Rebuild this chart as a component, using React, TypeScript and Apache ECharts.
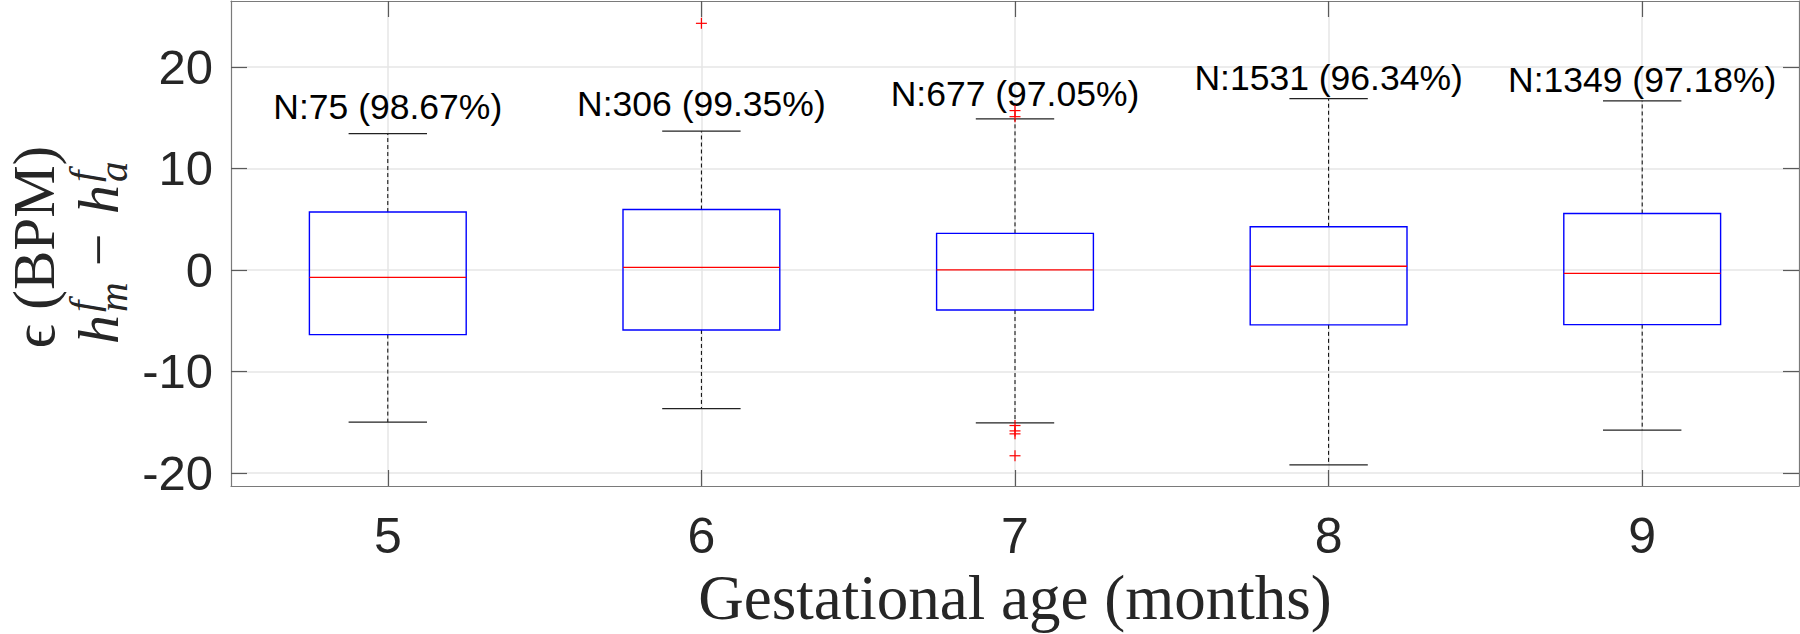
import React, { useEffect, useRef } from "react";
import * as echarts from "echarts";

// ---- data ----
const months = [5, 6, 7, 8, 9];
const whiskerLow = [-15.0, -13.67, -15.08, -19.22, -15.8];
const q1 = [-6.38, -5.92, -3.96, -5.42, -5.4];
const medians = [-0.73, 0.25, 0.0, 0.36, -0.35];
const q3 = [5.7, 5.95, 3.6, 4.25, 5.56];
const whiskerHigh = [13.42, 13.67, 14.89, 16.88, 16.65];
const counts = [75, 306, 677, 1531, 1349];
const percents = ["98.67", "99.35", "97.05", "96.34", "97.18"];
const outlierMonths = [6, 7, 7, 7, 7, 7, 7];
const outlierValues = [24.3, 15.7, 15.1, -15.34, -15.87, -16.16, -18.32];
const yTicks = [-20, -10, 0, 10, 20];

const AXIS_COLOR = "#7a7a7a";
const TICK_COLOR = "#5a5a5a";
const GRID_COLOR = "#e6e6e6";
const TEXT_COLOR = "#262626";
const SERIF = "'Liberation Serif', 'DejaVu Serif', serif";
const SANS = "'Liberation Sans', Arial, sans-serif";

export default function App() {
  const ref = useRef<HTMLDivElement>(null);

  useEffect(() => {
    if (!ref.current) return;
    const chart = echarts.init(ref.current, undefined, { renderer: "svg" });

    const boxData = months.map((m, i) => [m, whiskerLow[i], q1[i], medians[i], q3[i], whiskerHigh[i], i]);
    const outlierData = outlierMonths.map((m, i) => [m, outlierValues[i]]);

    const F = 58;
    const S = 41;
    const B = 118;
    const mid = (base: number, fs: number) => base - 0.3375 * fs;

    const option: any = {
      animation: false,
      textStyle: { fontFamily: SANS },
      grid: { left: 231, top: 1, width: 1568, height: 487 },
      xAxis: [
        {
          type: "value",
          min: 4.5,
          max: 9.5,
          position: "bottom",
          axisLine: { show: true, onZero: false, lineStyle: { color: AXIS_COLOR, width: 1.2 } },
          axisTick: { show: true, inside: true, length: 16, customValues: months, lineStyle: { color: TICK_COLOR, width: 1.2 } },
          axisLabel: { show: true, customValues: months, margin: 25, fontSize: 50, color: TEXT_COLOR, fontFamily: SANS },
          splitLine: { show: true, lineStyle: { color: GRID_COLOR, width: 1.5 } },
          name: "Gestational age (months)",
          nameLocation: "middle",
          nameGap: 80,
          nameTextStyle: { fontFamily: SERIF, fontSize: 63, color: TEXT_COLOR },
        },
        {
          type: "value",
          min: 4.5,
          max: 9.5,
          position: "top",
          axisLine: { show: true, onZero: false, lineStyle: { color: AXIS_COLOR, width: 1.2 } },
          axisTick: { show: true, inside: true, length: 16, customValues: months, lineStyle: { color: TICK_COLOR, width: 1.2 } },
          axisLabel: { show: false },
          splitLine: { show: false },
        },
      ],
      yAxis: [
        {
          type: "value",
          min: -21.3,
          max: 26.5,
          position: "left",
          axisLine: { show: true, onZero: false, lineStyle: { color: AXIS_COLOR, width: 1.2 } },
          axisTick: { show: true, inside: true, length: 16, customValues: yTicks, lineStyle: { color: TICK_COLOR, width: 1.2 } },
          axisLabel: { show: true, customValues: yTicks, margin: 18, fontSize: 49, color: TEXT_COLOR, fontFamily: SANS },
          splitLine: { show: true, lineStyle: { color: GRID_COLOR, width: 1.5 } },
        },
        {
          type: "value",
          min: -21.3,
          max: 26.5,
          position: "right",
          axisLine: { show: true, onZero: false, lineStyle: { color: AXIS_COLOR, width: 1.2 } },
          axisTick: { show: true, inside: true, length: 16, customValues: yTicks, lineStyle: { color: TICK_COLOR, width: 1.2 } },
          axisLabel: { show: false },
          splitLine: { show: false },
        },
      ],
      series: [
        {
          type: "custom",
          xAxisIndex: 0,
          yAxisIndex: 0,
          data: boxData,
          encode: { x: 0, y: [1, 2, 3, 4, 5] },
          renderItem: (params: any, api: any) => {
            const x = api.value(0);
            const low = api.value(1);
            const lq = api.value(2);
            const med = api.value(3);
            const uq = api.value(4);
            const high = api.value(5);
            const idx = api.value(6);
            const pLow = api.coord([x, low]);
            const pQ1 = api.coord([x, lq]);
            const pMed = api.coord([x, med]);
            const pQ3 = api.coord([x, uq]);
            const pHigh = api.coord([x, high]);
            const pLabel = api.coord([x, 0.81 * high + 5.23]);
            const halfBox = api.size([0.5, 0])[0] / 2;
            const halfCap = halfBox / 2;
            const cx = pMed[0];
            const dashStyle = { stroke: "#000", lineWidth: 1, lineDash: [4, 3] };
            const capStyle = { stroke: "#222", lineWidth: 1.3 };
            return {
              type: "group",
              children: [
                { type: "line", shape: { x1: cx, y1: pQ3[1], x2: cx, y2: pHigh[1] }, style: dashStyle },
                { type: "line", shape: { x1: cx, y1: pQ1[1], x2: cx, y2: pLow[1] }, style: dashStyle },
                { type: "line", shape: { x1: cx - halfCap, y1: pHigh[1], x2: cx + halfCap, y2: pHigh[1] }, style: capStyle },
                { type: "line", shape: { x1: cx - halfCap, y1: pLow[1], x2: cx + halfCap, y2: pLow[1] }, style: capStyle },
                {
                  type: "rect",
                  shape: { x: cx - halfBox, y: pQ3[1], width: halfBox * 2, height: pQ1[1] - pQ3[1] },
                  style: { fill: "none", stroke: "#0000ff", lineWidth: 1.4 },
                },
                { type: "line", shape: { x1: cx - halfBox, y1: pMed[1], x2: cx + halfBox, y2: pMed[1] }, style: { stroke: "#ff0000", lineWidth: 1.3 } },
                {
                  type: "text",
                  x: pLabel[0],
                  y: pLabel[1],
                  style: {
                    text: `N:${counts[idx]} (${percents[idx]}%)`,
                    fontSize: 35.5,
                    fontFamily: SANS,
                    fill: "#000",
                    align: "center",
                    verticalAlign: "middle",
                  },
                },
              ],
            };
          },
          z: 3,
        },
        {
          type: "custom",
          xAxisIndex: 0,
          yAxisIndex: 0,
          data: outlierData,
          encode: { x: 0, y: 1 },
          renderItem: (params: any, api: any) => {
            const p = api.coord([api.value(0), api.value(1)]);
            const s = 5.5;
            const st = { stroke: "#ff0000", lineWidth: 1.2 };
            return {
              type: "group",
              children: [
                { type: "line", shape: { x1: p[0] - s, y1: p[1], x2: p[0] + s, y2: p[1] }, style: st },
                { type: "line", shape: { x1: p[0], y1: p[1] - s, x2: p[0], y2: p[1] + s }, style: st },
              ],
            };
          },
          z: 4,
        },
      ],
      graphic: [
        {
          type: "group",
          x: 0,
          y: 248,
          rotation: Math.PI / 2,
          children: [
            { type: "text", x: 1, y: mid(54, 59), style: { text: "\u03f5 (BPM)", fontFamily: SERIF, fontSize: 59, fill: TEXT_COLOR, align: "center", verticalAlign: "middle" } },
            { type: "text", x: -96, y: mid(B, F), style: { text: "h", fontFamily: SERIF, fontStyle: "italic", fontSize: F, fill: TEXT_COLOR, align: "left", verticalAlign: "middle" } },
            { type: "text", x: -64, y: mid(B - 21, S), style: { text: "f", fontFamily: SERIF, fontStyle: "italic", fontSize: S, fill: TEXT_COLOR, align: "left", verticalAlign: "middle" } },
            { type: "text", x: -64, y: mid(B + 9, S), style: { text: "m", fontFamily: SERIF, fontStyle: "italic", fontSize: S, fill: TEXT_COLOR, align: "left", verticalAlign: "middle" } },
            { type: "text", x: -2, y: mid(B, F), style: { text: "\u2212", fontFamily: SERIF, fontSize: F, fill: TEXT_COLOR, align: "center", verticalAlign: "middle" } },
            { type: "text", x: 34, y: mid(B, F), style: { text: "h", fontFamily: SERIF, fontStyle: "italic", fontSize: F, fill: TEXT_COLOR, align: "left", verticalAlign: "middle" } },
            { type: "text", x: 66, y: mid(B - 21, S), style: { text: "f", fontFamily: SERIF, fontStyle: "italic", fontSize: S, fill: TEXT_COLOR, align: "left", verticalAlign: "middle" } },
            { type: "text", x: 66, y: mid(B + 9, S), style: { text: "a", fontFamily: SERIF, fontStyle: "italic", fontSize: S, fill: TEXT_COLOR, align: "left", verticalAlign: "middle" } },
          ],
        },
      ],
    };

    chart.setOption(option);
    return () => chart.dispose();
  }, []);

  return (
    <div
      ref={ref}
      style={{ position: "fixed", left: 0, top: 0, width: 1800, height: 634, background: "#fff" }}
    />
  );
}
